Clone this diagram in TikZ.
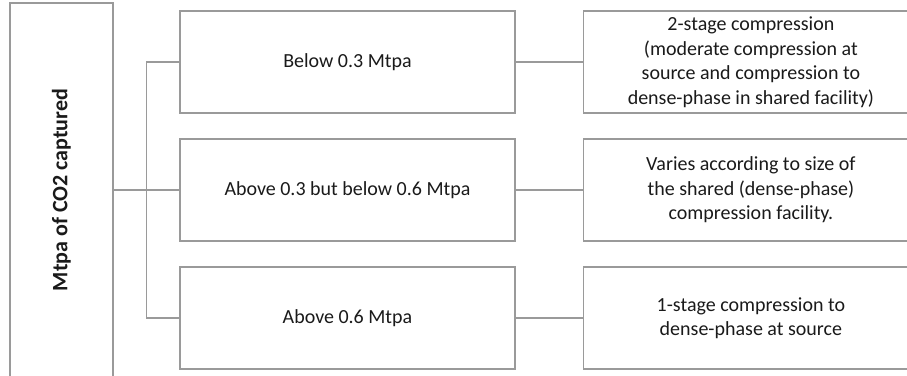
\documentclass[tikz,border=0pt]{standalone}
\usepackage{fontspec}
\setmainfont{Carlito}
\definecolor{BoxGray}{HTML}{9A9A9A}
\definecolor{TextDark}{HTML}{1A1A1A}
\usetikzlibrary{positioning}

\begin{document}
\begin{tikzpicture}[x=1pt, y=-1pt,
      box/.style={draw=BoxGray, line width=1.4pt, minimum width=335pt, minimum height=102pt,
         align=center, inner sep=0pt, text=TextDark, font=\fontsize{20}{24.5}\selectfont},
      link/.style={BoxGray, line width=1.4pt}]
   \clip (0,0) rectangle (907,375);
   % Left label box
   \node[box, minimum width=103pt, minimum height=374pt] (captured) at (61.5,190) {};
   \node[rotate=90, text=TextDark, font=\bfseries\fontsize{22}{24}\selectfont] (capturedtext)
      at (captured.center) {Mtpa of CO2 captured};
   % Ranges
   \node[box] (below) at (347.5,62) {Below 0.3 Mtpa};
   \node[box] (between) at (347.5,190) {Above 0.3 but below 0.6 Mtpa};
   \node[box] (above) at (347.5,318) {Above 0.6 Mtpa};
   % Compression options
   \node[box, right=67pt of below] (twostage) {2-stage compression\\(moderate compression at\\source and compression to\\dense-phase in shared facility)};
   \node[box, right=67pt of between] (varies) {Varies according to size of\\the shared (dense-phase)\\compression facility.};
   \node[box, right=67pt of above] (onestage) {1-stage compression to\\dense-phase at source};
   % Fork
   \draw[link] (captured.east) -- (between.west);
   \coordinate (fork) at ([xshift=33pt]captured.east);
   \draw[link] (below.west) -| (fork) |- (above.west);
   % Links to options
   \draw[link] (below) -- (twostage);
   \draw[link] (between) -- (varies);
   \draw[link] (above) -- (onestage);
\end{tikzpicture}
\end{document}
